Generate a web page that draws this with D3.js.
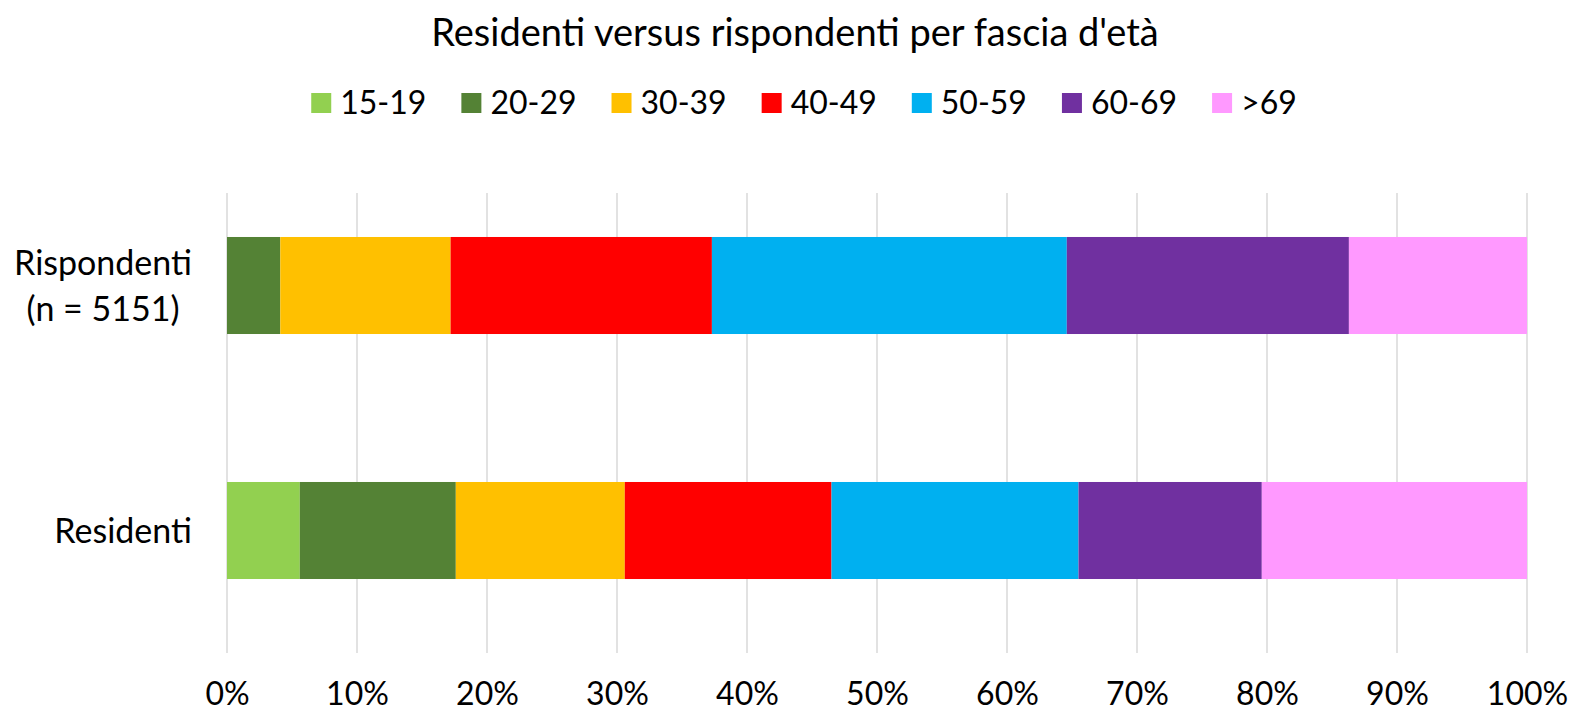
<!DOCTYPE html>
<html>
<head>
<meta charset="utf-8">
<script src="https://cdn.jsdelivr.net/npm/d3@7"></script>
<style>
  body { margin: 0; background: #fff; }
  text { font-family: Lato, "Open Sans", sans-serif; fill: #000; }
</style>
</head>
<body>
<div class="chart"></div>
<script>
// data (percent of each group)
let categories = ["Rispondenti", "Residenti"];
let categoryLines = [["Rispondenti", "(n = 5151)"], ["Residenti"]];
let ageGroups = ["15-19", "20-29", "30-39", "40-49", "50-59", "60-69", ">69"];
let rispondenti = [0, 4.1, 13.1, 20.1, 27.3, 21.7, 13.7];
let residenti = [5.6, 12.0, 13.0, 15.9, 19.0, 14.1, 20.4];
let colors = ["#92D050", "#548235", "#FFC000", "#FF0000", "#00B0F0", "#7030A0", "#FF99FF"];
let tickValues = [0, 10, 20, 30, 40, 50, 60, 70, 80, 90, 100];

let width = 1589, height = 715;
let margin = { top: 163, right: 62, bottom: 62, left: 227 };
let gridTop = 193;

let svg = d3.select('.chart')
    .append('svg')
    .attr('width', width)
    .attr('height', height);

// build rows for the stack
let rows = categories.map((c, i) => {
    let vals = i === 0 ? rispondenti : residenti;
    let r = { category: c };
    ageGroups.forEach((g, j) => r[g] = vals[j]);
    return r;
});
let series = d3.stack().keys(ageGroups)(rows);

let xScale = d3.scaleLinear()
    .domain([0, 100])
    .range([margin.left, width - margin.right]);

let yScale = d3.scaleBand()
    .domain(categories)
    .range([margin.top, height - margin.bottom])
    .paddingInner(0.604)
    .paddingOuter(0.302);

let color = d3.scaleOrdinal().domain(ageGroups).range(colors);

// Title
svg.append("text")
    .attr("x", 795)
    .attr("y", 46)
    .style("text-anchor", "middle")
    .style("font-size", "38px")
    .text("Residenti versus rispondenti per fascia d'età");

// gridlines
svg.append('g')
    .selectAll('line')
    .data(tickValues)
    .enter()
    .append('line')
    .attr('x1', d => xScale(d))
    .attr('x2', d => xScale(d))
    .attr('y1', gridTop)
    .attr('y2', height - margin.bottom)
    .style('stroke', '#d9d9d9')
    .style('stroke-width', 1.5);

// stacked bars
svg.append('g')
    .selectAll('g')
    .data(series)
    .enter()
    .append('g')
    .style('fill', d => color(d.key))
    .selectAll('rect')
    .data(d => d)
    .enter()
    .append('rect')
    .attr('x', d => xScale(d[0]))
    .attr('y', d => yScale(d.data.category))
    .attr('width', d => xScale(d[1]) - xScale(d[0]))
    .attr('height', yScale.bandwidth());

// x axis tick labels
let xAxis = d3.axisBottom(xScale)
    .tickValues(tickValues)
    .tickSize(0)
    .tickFormat(d => d + '%');
let ax = svg.append('g')
    .call(xAxis);
ax.select('.domain').remove();
ax.selectAll('text')
    .attr('y', 705)
    .attr('dy', 0)
    .style('font-family', 'Lato, sans-serif')
    .style('font-size', '32px')
    .style('fill', '#000');

// category labels, lines centred within a right-aligned block
categoryLines.forEach((lines, i) => {
    let cy = yScale(categories[i]) + yScale.bandwidth() / 2;
    let t = svg.append('text')
        .style('font-size', '34px')
        .style('text-anchor', 'middle');
    let lineH = 46;
    let y0 = cy - (lines.length - 1) * lineH / 2 + 12;
    lines.forEach((l, k) => {
        t.append('tspan').attr('y', y0 + k * lineH).text(l);
    });
    let w = d3.max(t.selectAll('tspan').nodes(), n => n.getComputedTextLength());
    t.selectAll('tspan').attr('x', 192 - w / 2);
});

// legend
let legend = svg.append('g');
let lx = 0;
ageGroups.forEach((g, i) => {
    let item = legend.append('g').attr('transform', `translate(${lx}, 0)`);
    item.append('rect')
        .attr('x', 0)
        .attr('y', -10)
        .attr('width', 20)
        .attr('height', 20)
        .style('fill', colors[i]);
    let t = item.append('text')
        .attr('x', 29)
        .attr('y', 11)
        .style('font-size', '32px')
        .text(g);
    lx += 29 + t.node().getComputedTextLength() + 35;
});
lx -= 35;
legend.attr('transform', `translate(${804 - lx / 2}, 103)`);
</script>
</body>
</html>
